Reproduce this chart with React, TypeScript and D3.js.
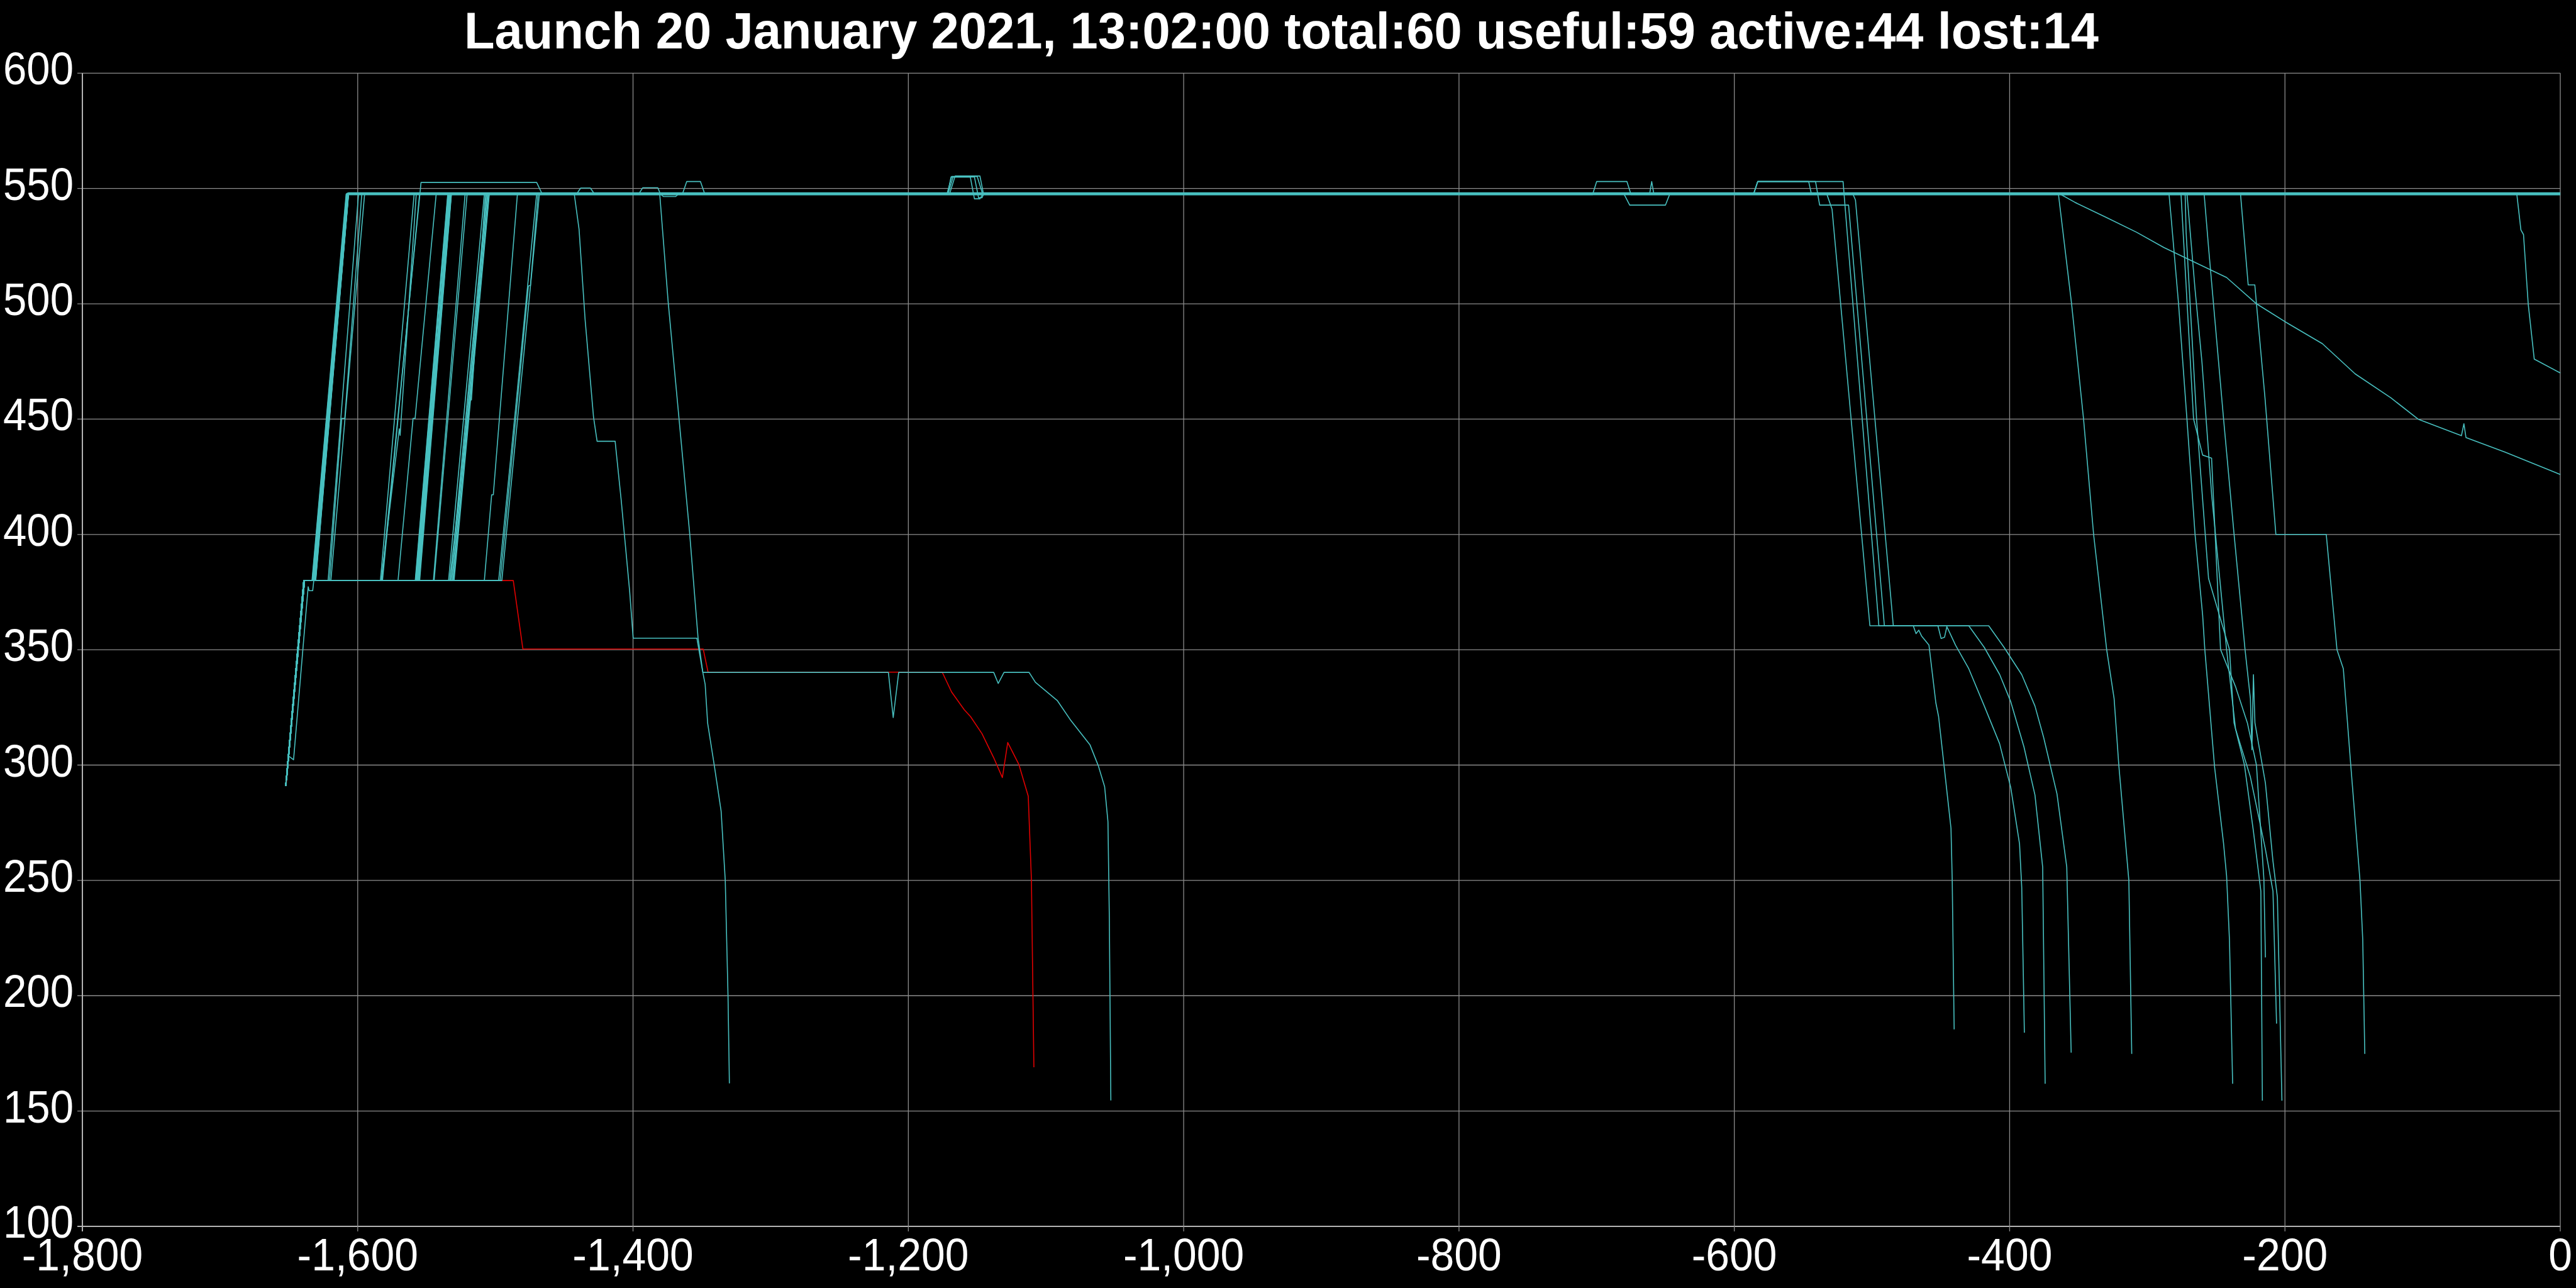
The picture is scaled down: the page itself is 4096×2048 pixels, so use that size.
import React, { useEffect } from "react";
import * as d3 from "d3";

type Pt = [number, number];
type Sat = { launch?: Pt[]; raise: [number, number, number]; steps?: Pt[]; tail?: Pt[] };

const TITLE = "Launch 20 January 2021, 13:02:00 total:60 useful:59 active:44 lost:14";
const X_TICKS = [-1800, -1600, -1400, -1200, -1000, -800, -600, -400, -200, 0];
const Y_TICKS = [100, 150, 200, 250, 300, 350, 400, 450, 500, 550, 600];
const PARK_ALT = 380;

const LAUNCH_A: Pt[] = [[-1652.3, 291], [-1639.2, 380]];
const LAUNCH_B: Pt[] = [[-1651.7, 293.5], [-1638.6, 380]];
const LAUNCH_C: Pt[] = [[-1649.7, 303.7], [-1646.6, 302.3], [-1636, 377.3], [-1635.3, 375.6], [-1632.7, 375.6], [-1631.9, 380]];

// ---- decay / manoeuvre tails (day, km) ----
const TAIL_T1: Pt[] = [[-1442.7, 547.6], [-1439.2, 532.3], [-1434.8, 493.1], [-1428.7, 450.9], [-1426.1, 440.4], [-1413, 440.4], [-1408.6, 414.9], [-1402.5, 375.7], [-1399.9, 355], [-1353.6, 355], [-1349.3, 340.2], [-1214.5, 340.2], [-1211, 320.6], [-1207, 340.2], [-1138, 340.2], [-1134.7, 335.4], [-1130.5, 340.2], [-1112.3, 340.2], [-1107.7, 335.9], [-1091.7, 327.9], [-1082.5, 319.8], [-1068, 308.7], [-1062, 299.7], [-1057.4, 290.6], [-1055, 275.4], [-1054, 233.6], [-1052.9, 154.6]];
const TAIL_T2: Pt[] = [[-1380.6, 547.6], [-1374.5, 501], [-1366.7, 450.9], [-1358.9, 400.8], [-1352.8, 355.4], [-1349.3, 340.2], [-1347.6, 335], [-1345.8, 318.2], [-1341, 300], [-1336, 280], [-1333, 250], [-1331, 200], [-1330, 162]];
const TAIL_D1: Pt[] = [[-533, 547.9], [-529, 541], [-501.5, 360.4], [-470, 360.4], [-468, 357], [-466, 358.5], [-464, 356], [-458.6, 352], [-453.6, 327], [-451.6, 321], [-447.5, 299], [-442.6, 272.6], [-441.7, 250], [-440.3, 185.4]];
const TAIL_D2: Pt[] = [[-586, 547.5], [-583, 553], [-521, 553], [-495, 360.4], [-452.1, 360.4], [-449.8, 354.9], [-447.3, 355.4], [-445.6, 360], [-444.8, 359], [-439.3, 352], [-429.7, 341.8], [-418.4, 325.6], [-407.3, 309.3], [-399.2, 290.3], [-392.8, 265.8], [-391.2, 246.8], [-389.3, 184]];
const TAIL_D3: Pt[] = [[-586, 547.6], [-583, 553], [-541, 553], [-538, 542.8], [-517, 542.8], [-491, 360.4], [-429.7, 360.4], [-418.4, 351], [-407.2, 339.2], [-399.2, 327.5], [-389.6, 307.9], [-381.6, 287], [-376, 255.8], [-374.2, 161.8]];
const TAIL_D4: Pt[] = [[-514, 547.8], [-512, 545], [-484.5, 360.4], [-415.2, 360.4], [-404, 351], [-391.2, 339.2], [-381.6, 325.6], [-375.3, 312], [-365.6, 287.5], [-358.5, 255.8], [-355.3, 175.3]];
const TAIL_R1: Pt[] = [[-364.6, 547.8], [-355, 500], [-346.3, 450], [-339, 400], [-329.5, 350], [-324.1, 328.8], [-320.7, 300], [-313.4, 250], [-311.3, 174.8]];
const TAIL_S1: Pt[] = [[-362.8, 547.4], [-352.6, 544], [-330, 537.5], [-307.7, 531], [-288, 524.4], [-242.4, 511.4], [-220.7, 500], [-199, 491.9], [-172.8, 482.7], [-149, 469.6], [-123, 459.2], [-103.3, 450], [-71.8, 442.8], [-70, 448], [-68.5, 442], [-40.3, 435.7], [0, 426]];
const TAIL_R: Pt[] = [[-31.6, 547.7], [-28.6, 532], [-26.7, 530], [-23.3, 500], [-18.9, 476], [0, 470]];
const TAIL_A: Pt[] = [[-284.2, 547.5], [-282.7, 537.5], [-277.3, 500], [-271.2, 450], [-265.3, 400], [-259.8, 365], [-258.2, 350], [-251.1, 299], [-244.6, 266], [-242.4, 252], [-240.3, 224], [-238, 161.8]];
const TAIL_B1: Pt[] = [[-275.5, 547.6], [-266.4, 450.1], [-259.8, 434.4], [-253.3, 433.1], [-246.8, 350.1], [-235.9, 334], [-227.3, 318.3], [-220.7, 300], [-215.3, 250.5], [-214.2, 216.6]];
const TAIL_B2: Pt[] = [[-272.5, 547.5], [-271.8, 531], [-264.2, 450.1], [-255.5, 380.9], [-240.3, 350.1], [-237, 318.3], [-229.4, 300], [-222.9, 271.3], [-217.5, 245.3], [-216.4, 154.5]];
const TAIL_B3: Pt[] = [[-271.2, 547.9], [-265.3, 506.2], [-260.3, 474.8], [-253.3, 417.5], [-242.4, 350.1], [-235.9, 315.7], [-225.1, 294.8], [-214.2, 263.5], [-208.7, 245.3], [-206.1, 187.9]];
const TAIL_B4: Pt[] = [[-258.7, 547.6], [-255.5, 524.4], [-244.6, 450.1], [-237, 400.3], [-229, 350.1], [-225.1, 328.8], [-224, 306.6], [-222.9, 339.2], [-221.8, 318.3], [-214.2, 292.2], [-208.7, 258.3], [-205.5, 242.7], [-202.2, 154.5]];
const TAIL_D: Pt[] = [[-232.3, 547.7], [-226.7, 508.2], [-221.9, 508.2], [-220.7, 500], [-214.5, 459.2], [-206.6, 400], [-170, 400], [-162.2, 350], [-157.6, 341.8], [-152.2, 300], [-145.5, 250], [-143.5, 224.4], [-142, 174.8]];

// ---- raise groups: raise = [leave 380 km, reach top, operational km] ----
const groupA: Sat[] = [
  { raise: [-1633.2, -1608.4, 547.6], tail: [[-1441, 547.6], [-1438, 550.2], [-1431, 550.2], [-1428, 547.6], [0, 547.6]] },
  { raise: [-1633.0, -1608.2, 547.4], tail: [[-1396, 547.4], [-1393, 550.3], [-1382, 550.3], [-1380, 547.4], [0, 547.4]] },
  { raise: [-1632.8, -1608.0, 547.8], tail: [[-1364, 547.8], [-1361, 553], [-1351, 553], [-1348, 547.8], [0, 547.8]] },
  { raise: [-1632.6, -1607.9, 547.5], tail: [[-1172, 547.5], [-1168.5, 555.2], [-1150, 555.2], [-1146, 547.5], [0, 547.5]] },
  { raise: [-1632.4, -1607.7, 547.9], tail: [[-1171, 547.9], [-1167.5, 555], [-1152, 555], [-1149, 546], [-1146.5, 546], [-1145, 547.9], [0, 547.9]] },
  { raise: [-1632.2, -1607.6, 547.3], tail: [[-703, 547.3], [-700, 553], [-678, 553], [-675, 547.3], [0, 547.3]] },
  { raise: [-1632.0, -1607.4, 547.7], tail: [[-661.5, 547.7], [-660, 553], [-658.5, 547.7], [0, 547.7]] },
  { raise: [-1631.9, -1607.3, 547.6], tail: [[-586, 547.6], [-583, 553], [-546, 553], [-544, 547.6], [0, 547.6]] },
  { raise: [-1631.8, -1607.2, 548.0] },
  { raise: [-1631.6, -1607.1, 547.5] },
  { raise: [-1631.5, -1607.0, 547.8] },
  { raise: [-1631.3, -1607.0, 547.4] },
  { raise: [-1631.2, -1606.9, 547.7] },
  { raise: [-1631.0, -1606.9, 547.9] },
  { raise: [-1630.9, -1606.8, 547.6] },
  { raise: [-1630.8, -1606.8, 547.3] },
  { raise: [-1630.7, -1606.7, 548.1] },
  { raise: [-1630.6, -1606.7, 547.5] },
  { raise: [-1630.5, -1606.6, 547.7], tail: TAIL_D },
  { raise: [-1632.5, -1607.8, 547.6], tail: TAIL_B1 },
  { raise: [-1632.1, -1607.5, 547.4], tail: TAIL_S1 },
  { raise: [-1631.7, -1607.1, 547.8], tail: TAIL_R1 },
  { raise: [-1631.4, -1607.0, 547.5], tail: TAIL_D2 },
  { raise: [-1631.1, -1606.9, 547.9], tail: TAIL_D1 },
  { raise: [-1630.9, -1606.7, 547.6], tail: TAIL_T2 },
];
const groupB: Sat[] = [
  { launch: LAUNCH_C, raise: [-1621.5, -1599.4, 547.6] },
  { raise: [-1620.5, -1597.0, 547.8], steps: [[-1611.6, 450.3], [-1609.4, 450.3]] },
  { raise: [-1619.5, -1595.0, 547.5], tail: TAIL_B2 },
];
const groupC: Sat[] = [
  { raise: [-1583.5, -1559.0, 547.7] },
  { raise: [-1583.0, -1557.5, 547.4], steps: [[-1569.8, 445.8], [-1569.2, 443]] },
  { raise: [-1582.0, -1555.0, 547.9], tail: TAIL_B3 },
  { raise: [-1582.5, -1554.0, 552.6], tail: [[-1470, 552.6], [-1466, 547.6], [0, 547.6]] },
];
const groupD: Sat[] = [
  { raise: [-1570.7, -1543.0, 547.5], steps: [[-1559.8, 450.3], [-1558.3, 450.3]] },
];
const groupE: Sat[] = [
  { launch: LAUNCH_B, raise: [-1558.2, -1534.6, 547.6], tail: [[-1380, 547.6], [-1378, 546.5], [-1369, 546.5], [-1367, 547.6], [0, 547.6]] },
  { launch: LAUNCH_B, raise: [-1558.0, -1534.4, 547.8], tail: [[-1170, 547.8], [-1166, 555.4], [-1148, 555.4], [-1145.5, 547.8], [0, 547.8]] },
  { launch: LAUNCH_B, raise: [-1557.7, -1534.1, 547.4], tail: [[-680, 547.4], [-676, 542.8], [-650, 542.8], [-647, 547.4], [0, 547.4]] },
  { launch: LAUNCH_B, raise: [-1557.5, -1533.9, 548.0], steps: [[-1550.8, 424.2], [-1549.2, 424.2]] },
  { launch: LAUNCH_B, raise: [-1557.2, -1533.6, 547.7], steps: [[-1542.5, 484], [-1541, 484]] },
  { launch: LAUNCH_B, raise: [-1557.0, -1533.4, 547.5] },
  { launch: LAUNCH_B, raise: [-1556.7, -1533.1, 547.9] },
  { launch: LAUNCH_B, raise: [-1556.4, -1532.8, 547.6] },
  { launch: LAUNCH_B, raise: [-1556.1, -1532.5, 547.3] },
  { launch: LAUNCH_B, raise: [-1555.9, -1532.3, 547.7], tail: TAIL_R },
  { launch: LAUNCH_B, raise: [-1555.6, -1532.1, 547.5], tail: TAIL_A },
  { launch: LAUNCH_B, raise: [-1555.3, -1532.0, 547.8], tail: TAIL_D4 },
  { launch: LAUNCH_B, raise: [-1555.0, -1531.9, 547.6], tail: TAIL_D3 },
];
const groupF: Sat[] = [
  { raise: [-1545.0, -1522.0, 547.5], tail: [[-1171.5, 547.5], [-1169, 555], [-1155, 555], [-1152, 545.5], [-1148, 545.5], [-1146, 547.5], [0, 547.5]] },
  { raise: [-1544.5, -1520.5, 547.8] },
];
const groupH: Sat[] = [
  { raise: [-1534.0, -1508.0, 547.6] },
  { raise: [-1533.2, -1507.2, 547.9], steps: [[-1518.6, 458.3], [-1517.4, 458.3]] },
  { raise: [-1532.5, -1506.5, 547.4] },
  { raise: [-1531.7, -1505.8, 547.7] },
  { raise: [-1531.0, -1505.2, 547.5] },
  { raise: [-1530.4, -1504.6, 547.8] },
  { raise: [-1530.0, -1504.4, 547.6], tail: TAIL_B4 },
];
const groupI: Sat[] = [
  { raise: [-1508.0, -1484.0, 547.5], steps: [[-1502.7, 417.2], [-1501.5, 417.2]] },
];
const groupJ: Sat[] = [
  { raise: [-1497.6, -1470.0, 547.7] },
  { raise: [-1496.5, -1469.0, 547.4], steps: [[-1476, 507.7], [-1474.5, 508]] },
  { raise: [-1495.3, -1468.0, 547.6], tail: TAIL_T1 },
];

const RED_TRACK: Pt[] = [[-1652, 291], [-1639, 380], [-1487, 380], [-1480, 350.3], [-1349, 350.3], [-1345.5, 340.3], [-1175.4, 340.3], [-1168.6, 331.7], [-1159.4, 324], [-1154.8, 321], [-1146.5, 313.6], [-1138, 303.2], [-1131.7, 294.6], [-1127.8, 309.8], [-1119.8, 300.4], [-1112.9, 286.5], [-1110.6, 250.3], [-1108.8, 169]];

const TEAL = "#48C0C0";
const RED = "#E00000";
const FONT = "'Liberation Sans', Arial, Helvetica, sans-serif";

function buildTrack(s: Sat): Pt[] {
  const [start, end, alt] = s.raise;
  const pts: Pt[] = [...(s.launch ?? LAUNCH_A), [start, PARK_ALT], ...(s.steps ?? []), [end, alt]];
  return pts.concat(s.tail ?? [[0, alt]]);
}

const locale = d3.formatLocale({ decimal: ".", thousands: ",", grouping: [3], currency: ["$", ""], minus: "-" });
const fmt = locale.format(",");

export default function App() {
  useEffect(() => {
    document.body.style.margin = "0";
    document.body.style.background = "#000";
  }, []);

  const W = 4096, H = 2048;
  const x = d3.scaleLinear().domain([-1800, 0]).range([131, 4071]);
  const y = d3.scaleLinear().domain([100, 600]).range([1950, 116.3]);
  const line = d3.line<Pt>().x((d) => x(d[0])).y((d) => y(d[1]));

  const sats = [...groupA, ...groupB, ...groupC, ...groupD, ...groupE, ...groupF, ...groupH, ...groupI, ...groupJ];
  const tracks = sats.map(buildTrack);

  return (
    <svg width={W} height={H} viewBox={`0 0 ${W} ${H}`} style={{ display: "block", position: "absolute", left: 0, top: 0, background: "#000" }}>
      <rect x={0} y={0} width={W} height={H} fill="#000" />
      {Y_TICKS.map((t) => (
        <line key={"gy" + t} x1={x(-1800) - 8} x2={x(0)} y1={y(t)} y2={y(t)}
          stroke={t === 100 ? "#b4b4b4" : "#8c8c8c"} strokeWidth={t === 100 ? 2 : 1.3} />
      ))}
      {X_TICKS.map((t) => (
        <line key={"gx" + t} x1={x(t)} x2={x(t)} y1={y(600)} y2={y(100) + 8}
          stroke={t === -1800 ? "#b4b4b4" : "#8c8c8c"} strokeWidth={t === -1800 ? 2 : 1.3} />
      ))}
      <path d={line(RED_TRACK) ?? ""} fill="none" stroke={RED} strokeWidth={1.6} strokeLinejoin="round" />
      {tracks.map((tr, i) => (
        <path key={"t" + i} d={line(tr) ?? ""} fill="none" stroke={TEAL} strokeWidth={1.6} strokeLinejoin="round" />
      ))}
      {Y_TICKS.map((t) => (
        <text key={"ly" + t} transform={`translate(117,${y(t) + 18}) scale(0.92,1)`} textAnchor="end"
          fill="#fff" fontFamily={FONT} fontSize={73}>{fmt(t)}</text>
      ))}
      {X_TICKS.map((t) => (
        <text key={"lx" + t} transform={`translate(${x(t)},2020) scale(0.93,1)`} textAnchor="middle"
          fill="#fff" fontFamily={FONT} fontSize={73}>{fmt(t)}</text>
      ))}
      <text x={738} y={77} fill="#fff" fontFamily={FONT} fontSize={81} fontWeight="bold"
        textLength={2599} lengthAdjust="spacingAndGlyphs">{TITLE}</text>
    </svg>
  );
}
